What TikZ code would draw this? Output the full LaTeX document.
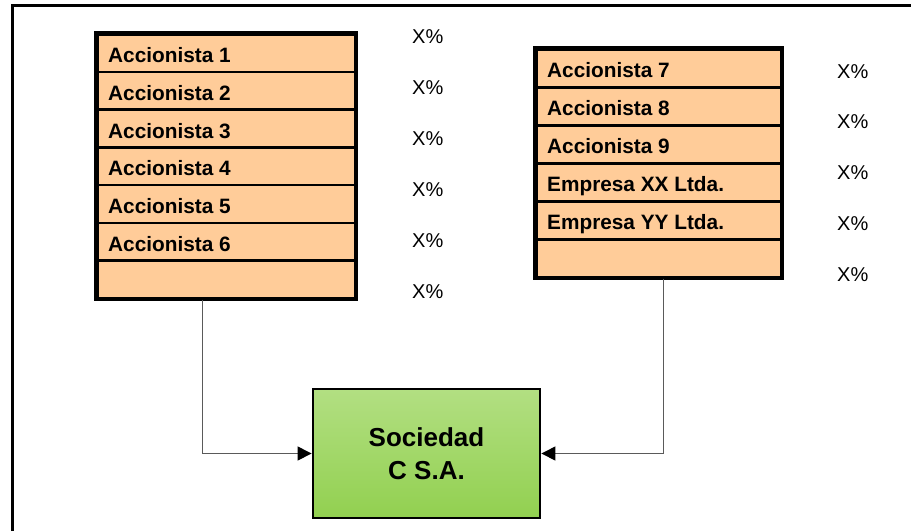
\documentclass[tikz,border=0pt]{standalone}
\usepackage{fontspec}
\setmainfont{Liberation Sans}
\usetikzlibrary{arrows.meta,calc}
\definecolor{peach}{HTML}{FFCC99}
\definecolor{gtop}{RGB}{178,223,130}
\definecolor{gbot}{RGB}{146,208,80}
\definecolor{conncol}{RGB}{90,90,90}
\tikzset{
  rowbox/.style={draw=black, fill=peach, line width=2.6pt, rectangle, anchor=north west, inner sep=0pt},
  rowtext/.style={anchor=base west, inner sep=0pt, font=\fontsize{20.8}{24}\selectfont\bfseries},
  pct/.style={anchor=base west, inner sep=0pt, font=\fontsize{20}{24}\selectfont},
  conn/.style={draw=conncol, line width=1.1pt, -{Triangle[length=14pt,width=14pt,color=black]}},
}
\begin{document}
\begin{tikzpicture}[x=1pt,y=-1pt]
\useasboundingbox (0,0) rectangle (911,531);
\fill[white] (0,0) rectangle (911,531);
% outer frame
\draw[line width=3pt] (12,531) -- (12,5) -- (911,5);

% left table
\foreach \i/\t in {1/33,2/70.7,3/108.4,4/146.1,5/183.8,6/221.5,7/259.2}{
  \node[rowbox, minimum width=258pt, minimum height=37.7pt] (L\i) at (96,\t) {};
}
\draw[line width=3.4pt] (L1.north west) rectangle (L7.south east);
\foreach \i/\txt in {1/Accionista 1,2/Accionista 2,3/Accionista 3,4/Accionista 4,5/Accionista 5,6/Accionista 6}{
  \node[rowtext] (LT\i) at ($(L\i.north west)+(12,29.6)$) {\txt};
}
% right table
\foreach \i/\t in {1/48,2/86,3/124,4/162,5/200,6/238}{
  \node[rowbox, minimum width=245pt, minimum height=38pt] (R\i) at (535,\t) {};
}
\draw[line width=3.4pt] (R1.north west) rectangle (R6.south east);
\foreach \i/\txt in {1/Accionista 7,2/Accionista 8,3/Accionista 9,4/Empresa XX Ltda.,5/Empresa YY Ltda.}{
  \node[rowtext] (RT\i) at ($(R\i.north west)+(12,29.6)$) {\txt};
}

% percentages
\foreach \i/\y in {1/43,2/94,3/145,4/196,5/247,6/298}{
  \node[pct] (LP\i) at (412,\y) {X\%};
}
\foreach \i/\y in {1/78,2/128.5,3/179,4/230,5/281}{
  \node[pct] (RP\i) at (837,\y) {X\%};
}

% company box
\node[draw=black, line width=2.8pt, top color=gtop, bottom color=gbot,
      minimum width=227pt, minimum height=129pt, inner sep=0pt,
      align=center, font=\fontsize{26}{33}\selectfont\bfseries] (S) at (426.5,453.5) {Sociedad\\C S.A.};

% connectors
\draw[conn] ($(L7.south west)!0.407!(L7.south east)$) |- (S.west);
\draw[conn] ($(R6.south west)!0.518!(R6.south east)$) |- (S.east);
\end{tikzpicture}
\end{document}
